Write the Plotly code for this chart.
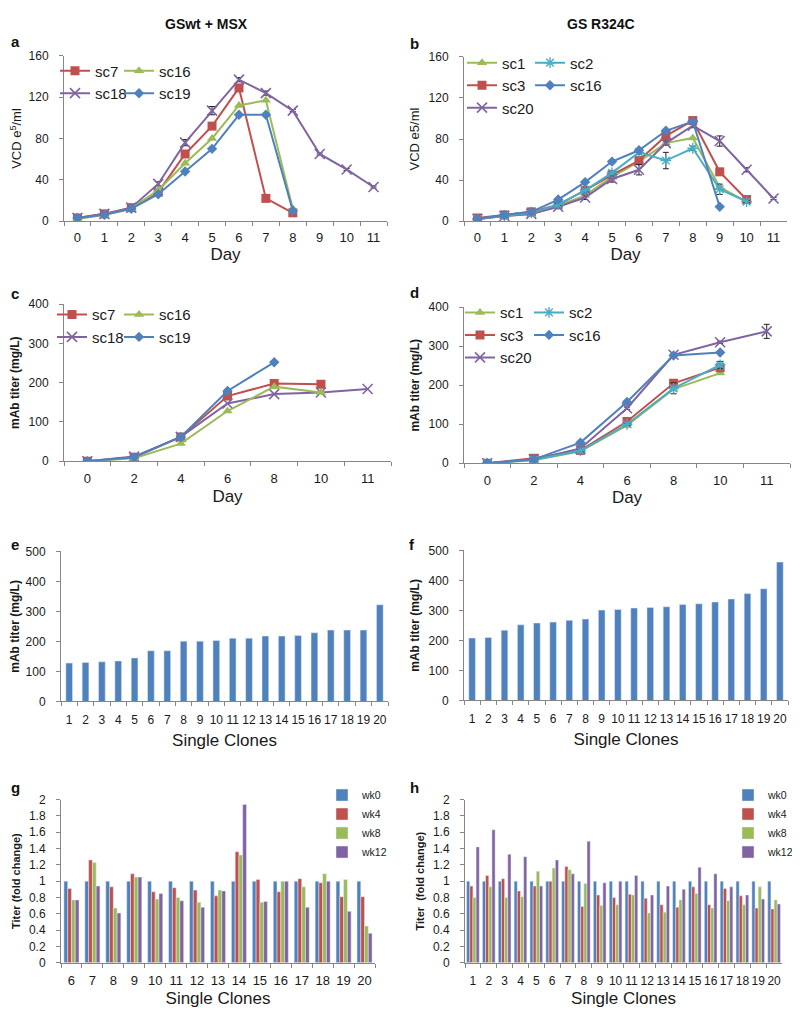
import plotly.graph_objects as go

# Calibrated page mapping: window_x = 7 + fig_x ; window_y = 15.1 + 0.9853 * fig_y
X0, Y0, YS = 7.0, 15.1, 0.9853
FW, FH = 793, 1011

# ---------------- DATA ----------------
days_vcd = ["0", "1", "2", "3", "4", "5", "6", "7", "8", "9", "10", "11"]
days_titer = ["0", "2", "4", "6", "8", "10", "11"]

# Panel a: GSwt + MSX, VCD
a_sc7 = [3, 7, 13, 28, 65, 92, 129, 22, 8]
a_sc16 = [2, 6, 12, 30, 56, 80, 112, 117, 12]
a_sc18 = [3, 7, 13, 36, 76, 107, 137, 124, 107, 65, 50, 33]
a_sc18_err = [0.5, 0.5, 1, 2, 3, 4, 2, 2, 1, 1, 1, 1]
a_sc19 = [3, 6, 12, 26, 48, 70, 103, 103, 10]

# Panel b: GS R324C, VCD
b_sc1 = [2, 5, 7, 15, 25, 43, 58, 76, 81, 33, 19]
b_sc2 = [2, 5, 8, 16, 30, 47, 67, 59, 71, 31, 19]
b_sc2_err = [0.5, 0.5, 1, 1, 2, 2, 2, 8, 2, 5, 1]
b_sc3 = [3, 6, 9, 16, 30, 45, 59, 83, 98, 48, 21]
b_sc16 = [2, 6, 9, 21, 38, 58, 69, 88, 97, 14]
b_sc20 = [2, 5, 7, 14, 23, 41, 50, 76, 93, 78, 50, 22]
b_sc20_err = [0.5, 0.5, 1, 1, 2, 3, 5, 2, 2, 5, 2, 1]

# Panel c: GSwt + MSX, titer
c_sc7 = [0, 10, 62, 166, 198, 196]
c_sc16 = [0, 8, 45, 128, 190, 175]
c_sc18 = [0, 12, 62, 147, 171, 175, 184]
c_sc19 = [0, 10, 62, 179, 252]

# Panel d: GS R324C, titer
d_sc1 = [0, 8, 31, 97, 190, 231]
d_sc2 = [0, 9, 32, 100, 192, 252]
d_sc2_err = [0, 1, 2, 3, 14, 9]
d_sc3 = [0, 13, 33, 107, 205, 245]
d_sc16 = [0, 10, 53, 157, 276, 284]
d_sc20 = [0, 10, 38, 141, 278, 310, 338]
d_sc20_err = [0, 1, 2, 3, 3, 3, 18]

# Panels e/f: single clones
clones = [str(i) for i in range(1, 21)]
e_titer = [128, 130, 132, 135, 145, 169, 169, 201, 201, 203, 211, 211, 218, 218,
           220, 229, 238, 238, 238, 322]
f_titer = [208, 210, 234, 252, 258, 261, 267, 271, 301, 303, 308, 310, 312, 320,
           322, 328, 338, 356, 372, 461]

# Panel g: stability, GSwt + MSX
g_clones = [str(i) for i in range(6, 21)]
g_wk0 = [1.0] * 15
g_wk4 = [0.91, 1.26, 0.93, 1.09, 0.87, 0.92, 0.89, 0.82, 1.36, 1.02, 0.87, 1.03, 0.98, 0.81, 0.81]
g_wk8 = [0.77, 1.23, 0.67, 1.05, 0.78, 0.80, 0.74, 0.89, 1.32, 0.74, 1.00, 0.93, 1.09, 1.02, 0.45]
g_wk12 = [0.77, 0.94, 0.61, 1.05, 0.85, 0.76, 0.68, 0.88, 1.94, 0.75, 1.00, 0.68, 1.00, 0.63, 0.36]

# Panel h: stability, GS R324C
h_clones = [str(i) for i in range(1, 21)]
h_wk0 = [1.0] * 20
h_wk4 = [0.94, 1.07, 1.03, 0.88, 0.94, 1.00, 1.18, 0.69, 0.83, 0.80, 0.84, 0.79, 0.71, 0.68,
         0.93, 0.71, 0.91, 0.82, 0.67, 0.66]
h_wk8 = [0.80, 0.93, 0.80, 0.81, 1.12, 1.16, 1.14, 0.97, 0.70, 0.71, 0.83, 0.61, 0.62, 0.77,
         0.85, 0.67, 0.76, 0.71, 0.93, 0.77]
h_wk12 = [1.42, 1.63, 1.33, 1.30, 0.94, 1.26, 1.09, 1.49, 0.98, 1.00, 1.07, 0.83, 0.94, 0.90,
          1.17, 1.09, 0.93, 0.83, 0.78, 0.72]

# ---------------- STYLE ----------------
RED, GREEN, PURPLE, BLUE, CYAN = "#C0504D", "#9BBB59", "#8064A2", "#4F81BD", "#4BACC6"
FONT = "Liberation Sans, Arial, sans-serif"
AXC = "#868686"
TXT = "#1a1a1a"


def fx(p):
    return (p - X0) / FW


def fy(p):
    return 1 - ((p - Y0) / YS) / FH


def px_x(a, b):
    return [fx(a), fx(b)]


def px_y(top, bottom):
    return [fy(bottom), fy(top)]


fig = go.Figure()

MK = {
    "square": dict(symbol="square", size=9),
    "tri": dict(symbol="triangle-up", size=9),
    "x": dict(symbol="x-thin-open", size=10, line=dict(width=1.6)),
    "dia": dict(symbol="diamond", size=8),
    "ast": dict(symbol="asterisk-open", size=9, line=dict(width=1.4)),
}


def line(ax, cats, y, name, color, mk, legend, err=None):
    m = dict(MK[mk])
    m["color"] = color
    if "line" in m:
        m["line"] = dict(m["line"], color=color)
    tr = go.Scatter(
        x=cats[:len(y)], y=y, name=name, mode="lines+markers",
        line=dict(color=color, width=2), marker=m,
        xaxis="x" + ax, yaxis="y" + ax, legend=legend,
    )
    if err is not None:
        tr.error_y = dict(type="data", array=err, color="#222", thickness=1, width=3)
    fig.add_trace(tr)


# Panel a
line("", days_vcd, a_sc7, "sc7", RED, "square", "legend")
line("", days_vcd, a_sc18, "sc18", PURPLE, "x", "legend", a_sc18_err)
line("", days_vcd, a_sc16, "sc16", GREEN, "tri", "legend2")
line("", days_vcd, a_sc19, "sc19", BLUE, "dia", "legend2")
# Panel b
line("2", days_vcd, b_sc1, "sc1", GREEN, "tri", "legend3")
line("2", days_vcd, b_sc3, "sc3", RED, "square", "legend3")
line("2", days_vcd, b_sc20, "sc20", PURPLE, "x", "legend3", b_sc20_err)
line("2", days_vcd, b_sc2, "sc2", CYAN, "ast", "legend4", b_sc2_err)
line("2", days_vcd, b_sc16, "sc16", BLUE, "dia", "legend4")
# Panel c
line("3", days_titer, c_sc7, "sc7", RED, "square", "legend5")
line("3", days_titer, c_sc18, "sc18", PURPLE, "x", "legend5")
line("3", days_titer, c_sc16, "sc16", GREEN, "tri", "legend6")
line("3", days_titer, c_sc19, "sc19", BLUE, "dia", "legend6")
# Panel d
line("4", days_titer, d_sc1, "sc1", GREEN, "tri", "legend7")
line("4", days_titer, d_sc3, "sc3", RED, "square", "legend7")
line("4", days_titer, d_sc20, "sc20", PURPLE, "x", "legend7", d_sc20_err)
line("4", days_titer, d_sc2, "sc2", CYAN, "ast", "legend8", d_sc2_err)
line("4", days_titer, d_sc16, "sc16", BLUE, "dia", "legend8")

# Panels e/f
for ax, vals in (("5", e_titer), ("6", f_titer)):
    fig.add_trace(go.Bar(x=clones, y=vals, marker_color=BLUE, width=0.41, offset=-0.205,
                         showlegend=False, xaxis="x" + ax, yaxis="y" + ax))

# Panels g/h
for ax, cats, series, leg, bw in (
    ("7", g_clones, (g_wk0, g_wk4, g_wk8, g_wk12), "legend9", 0.18),
    ("8", h_clones, (h_wk0, h_wk4, h_wk8, h_wk12), "legend10", 0.2),
):
    for i, (nm, col, vals) in enumerate(zip(["wk0", "wk4", "wk8", "wk12"],
                                            [BLUE, RED, GREEN, PURPLE], series)):
        fig.add_trace(go.Bar(x=cats, y=vals, name=nm, marker_color=col, width=bw,
                             offset=-2 * bw + i * bw, legend=leg,
                             xaxis="x" + ax, yaxis="y" + ax))


def xax(dom, anchor, n, title, tfs=13, lso=4, tso=2, ttl=17):
    return dict(
        domain=px_x(*dom), anchor=anchor, type="category", range=[-0.5, n - 0.5],
        tickmode="linear", tick0=0, dtick=1, tickson="boundaries",
        ticks="outside", ticklen=4, tickcolor=AXC, showline=True, linecolor=AXC,
        linewidth=1, showgrid=False, zeroline=False, tickangle=0,
        tickfont=dict(size=tfs, color=TXT, family=FONT), ticklabelstandoff=lso,
        title=dict(text=title, font=dict(size=ttl, color=TXT, family=FONT), standoff=tso),
        fixedrange=True,
    )


def yax(dom, anchor, rng, dtick, title, tsize=12, standoff=6):
    return dict(
        domain=px_y(*dom), anchor=anchor, range=rng, dtick=dtick,
        ticks="outside", ticklen=4, tickcolor=AXC, showline=True, linecolor=AXC,
        linewidth=1, showgrid=False, zeroline=False,
        tickfont=dict(size=12, color=TXT, family=FONT), ticklabelstandoff=8,
        title=dict(text=title, font=dict(size=tsize, color=TXT, family=FONT),
                   standoff=standoff),
        fixedrange=True,
    )


layout = dict(
    width=FW, height=FH, margin=dict(l=0, r=0, t=0, b=0),
    paper_bgcolor="white", plot_bgcolor="white",
    font=dict(family=FONT, color=TXT),
    barmode="overlay",
    xaxis=xax((63, 386), "y", 12, "Day"),
    yaxis=yax((56, 221), "x", [0, 160], 40, "VCD e<sup>5</sup>/ml", 13),
    xaxis2=xax((463, 786), "y2", 12, "Day"),
    yaxis2=yax((57, 221), "x2", [0, 160], 40, "VCD e5/ml", 13),
    xaxis3=xax((63, 390), "y3", 7, "Day", lso=5, tso=5),
    yaxis3=yax((304, 461), "x3", [0, 400], 100, "<b>mAb titer (mg/L)</b>"),
    xaxis4=xax((463, 789), "y4", 7, "Day", lso=5, tso=2),
    yaxis4=yax((307, 463), "x4", [0, 400], 100, "<b>mAb titer (mg/L)</b>"),
    xaxis5=xax((60, 387), "y5", 20, "Single Clones", 12, lso=7, tso=8),
    yaxis5=yax((551, 701), "x5", [0, 500], 100, "<b>mAb titer (mg/L)</b>"),
    xaxis6=xax((463, 787), "y6", 20, "Single Clones", 12, lso=7, tso=8),
    yaxis6=yax((550, 700), "x6", [0, 500], 100, "<b>mAb titer (mg/L)</b>"),
    xaxis7=xax((60, 374), "y7", 15, "Single Clones", 13, lso=6, tso=4, ttl=17),
    yaxis7=yax((799, 962), "x7", [0, 2], 0.2, "<b>Titer (fold change)</b>", 11),
    xaxis8=xax((464, 781), "y8", 20, "Single Clones", 12, lso=7, tso=4, ttl=17),
    yaxis8=yax((799, 962), "x8", [0, 2], 0.2, "<b>Titer  (fold change)</b>", 11),
)


def leg(xpx, ypx, size=15):
    return dict(x=fx(xpx), y=fy(ypx), xanchor="left", yanchor="top",
                bgcolor="rgba(0,0,0,0)", borderwidth=0, itemwidth=30,
                font=dict(size=size, color=TXT, family=FONT), tracegroupgap=0,
                traceorder="normal", itemclick=False, itemdoubleclick=False)


layout.update(
    legend=leg(54, 54.5), legend2=leg(118, 54.5),
    legend3=leg(461, 46.5), legend4=leg(529, 46.5),
    legend5=leg(51, 298), legend6=leg(118, 298),
    legend7=leg(459, 296), legend8=leg(528, 296),
    legend9=leg(321, 780, 10.5), legend10=leg(727, 780, 10.5),
)
fig.update_layout(**layout)

# Column headers and panel letters (x, y are reference pixels; anchor)
ann = [
    ("<b>GSwt + MSX</b>", 205, 24, "center", 14),
    ("<b>GS R324C</b>", 600, 24, "center", 14),
    ("<b>a</b>", 7.5, 42, "left", 15), ("<b>b</b>", 407, 44, "left", 15),
    ("<b>c</b>", 7.5, 293, "left", 15), ("<b>d</b>", 407, 292, "left", 15),
    ("<b>e</b>", 7.5, 544, "left", 15), ("<b>f</b>", 406, 544, "left", 15),
    ("<b>g</b>", 7.5, 787, "left", 15), ("<b>h</b>", 407, 787, "left", 15),
]
for text, x, y, anc, s in ann:
    fig.add_annotation(text=text, x=fx(x), y=fy(y), xref="paper", yref="paper",
                       showarrow=False, xanchor=anc, yanchor="middle",
                       font=dict(size=s, color="#111", family=FONT))

fig.write_html("out.html")
